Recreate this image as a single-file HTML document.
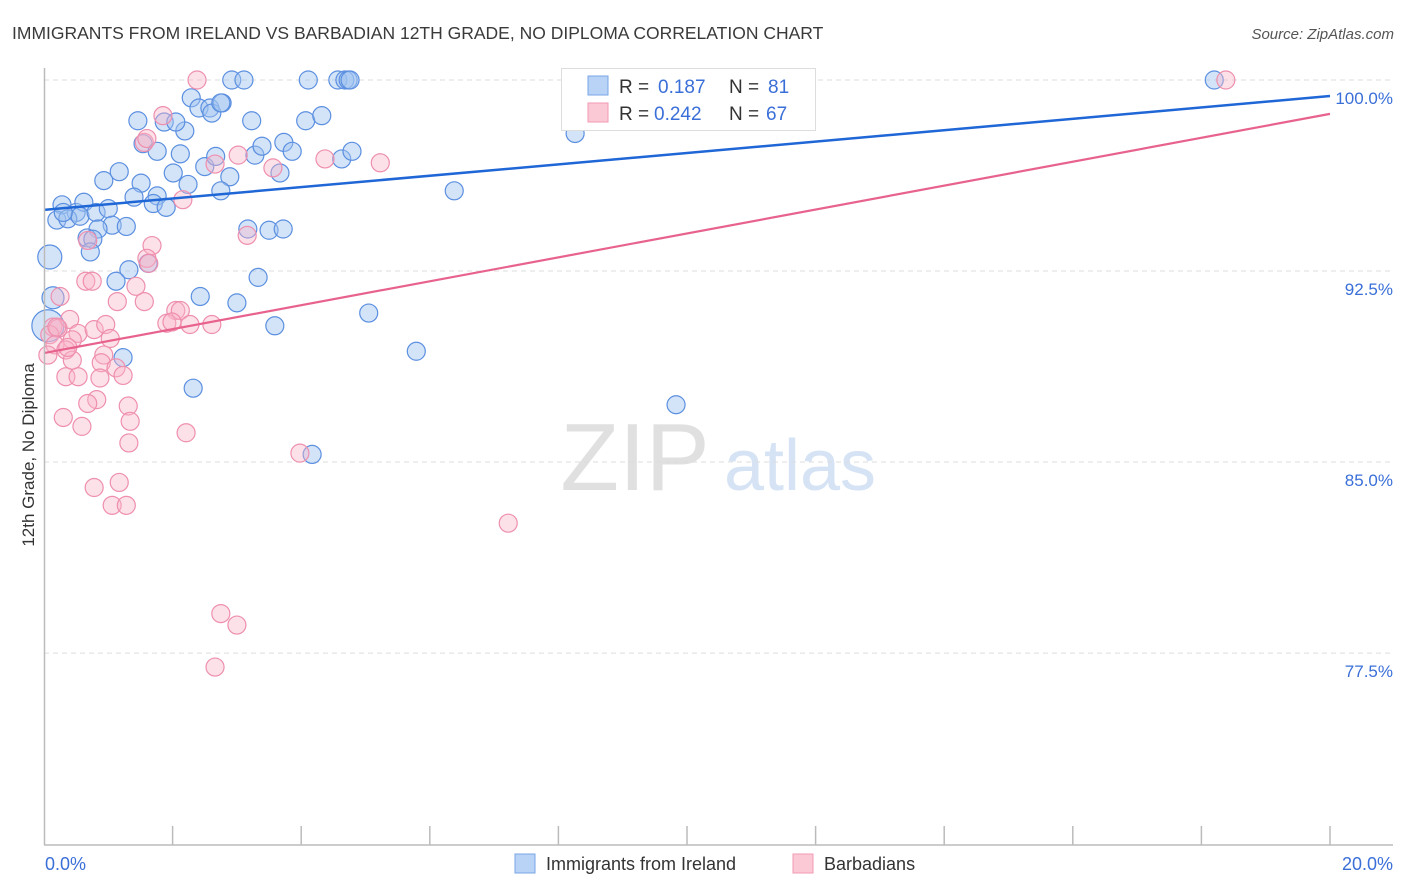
<!DOCTYPE html>
<html><head><meta charset="utf-8"><style>
body{margin:0;background:#fff;font-family:"Liberation Sans",sans-serif;}
#wrap{position:relative;width:1406px;height:892px;overflow:hidden;}
svg text{font-family:"Liberation Sans",sans-serif;}
</style></head><body>
<div id="wrap">
<svg id="chart" width="1406" height="892">
<text x="12" y="39" font-size="17.5" fill="#3a3a3a">IMMIGRANTS FROM IRELAND VS BARBADIAN 12TH GRADE, NO DIPLOMA CORRELATION CHART</text>
<text x="1394" y="39" font-size="15" fill="#555" font-style="italic" text-anchor="end">Source: ZipAtlas.com</text>
<text transform="translate(34,455) rotate(-90)" font-size="17" fill="#333" text-anchor="middle">12th Grade, No Diploma</text>
<g>
<text x="635" y="490" font-size="96" fill="#e0e0e0" font-family="Liberation Serif" text-anchor="middle">ZIP</text>
<text x="800" y="490" font-size="72" fill="#d5e3f5" text-anchor="middle">atlas</text>
</g>
<g id="grid"></g><g id="pts"></g><g id="lines"></g><g id="axes"></g>
<g>
<rect x="561.5" y="68.5" width="254" height="62" fill="#fff" stroke="#ddd"/>
<rect x="588" y="76" width="20" height="19" fill="#b8d3f5" stroke="#7aa6e6"/>
<rect x="588" y="103" width="20" height="19" fill="#fbc8d6" stroke="#f09ab3"/>
<text x="619" y="93" font-size="19" fill="#333">R = </text><text x="658" y="93" font-size="19" fill="#3a6fd8">0.187</text>
<text x="729" y="93" font-size="19" fill="#333">N = </text><text x="768" y="93" font-size="19" fill="#3a6fd8">81</text>
<text x="619" y="120" font-size="19" fill="#333">R = </text><text x="654" y="120" font-size="19" fill="#3a6fd8">0.242</text>
<text x="729" y="120" font-size="19" fill="#333">N = </text><text x="766" y="120" font-size="19" fill="#3a6fd8">67</text>
</g>
<g>
<rect x="515" y="854" width="20" height="19" fill="#b8d3f5" stroke="#7aa6e6"/>
<text x="546" y="870" font-size="18" fill="#333">Immigrants from Ireland</text>
<rect x="793" y="854" width="20" height="19" fill="#fbc8d6" stroke="#f09ab3"/>
<text x="824" y="870" font-size="18" fill="#333">Barbadians</text>
</g>
</svg>
</div>
<script>
const yTicks=[100,92.5,85,77.5];
const yTickLabels=["100.0%","92.5%","85.0%","77.5%"];
const xTickLabels=["0.0%","20.0%"];
const blueX=[0.28,0.50,0.62,0.20,0.37,0.56,0.81,1.00,1.06,1.28,0.84,0.67,0.76,0.72,0.09,0.93,1.17,1.51,1.76,1.40,1.70,1.90,2.01,2.24,1.54,1.76,2.12,2.19,1.46,1.87,2.05,2.29,2.41,2.58,2.61,2.77,2.50,2.67,2.89,2.75,2.92,3.11,3.23,3.28,3.39,3.73,3.86,3.67,4.11,4.57,4.68,4.73,4.76,4.07,4.32,4.63,4.79,6.38,8.26,11.17,18.20,3.17,3.50,3.72,1.32,1.62,1.12,3.33,2.43,3.00,3.59,5.05,5.79,1.23,2.32,9.83,4.17,0.14,0.06,0.30,2.75];
const blueY=[95.1,94.8,95.2,94.5,94.55,94.65,94.8,94.95,94.3,94.25,94.15,93.8,93.75,93.25,93.05,96.05,96.4,95.95,95.45,95.4,95.15,95.0,96.35,95.9,97.5,97.2,97.1,98.0,98.4,98.35,98.35,99.3,98.9,98.9,98.7,99.1,96.6,97.0,96.2,95.65,100.0,100.0,98.4,97.05,97.4,97.55,97.2,96.35,100.0,100.0,100.0,100.0,100.0,98.4,98.6,96.9,97.2,95.65,97.9,99.4,100.0,94.15,94.1,94.15,92.55,92.8,92.1,92.25,91.5,91.25,90.35,90.85,89.35,89.1,87.9,87.25,85.3,91.45,90.35,94.8,99.1];
const blueR=[9,9,9,9,9,9,9,9,9,9,9,9,9,9,12,9,9,9,9,9,9,9,9,9,9,9,9,9,9,9,9,9,9,9,9,9,9,9,9,9,9,9,9,9,9,9,9,9,9,9,9,9,9,9,9,9,9,9,9,9,9,9,9,9,9,9,9,9,9,9,9,9,9,9,9,9,9,11,16,9,9];
const pinkX=[2.38,18.38,1.85,1.56,1.60,3.02,2.66,3.56,4.37,5.23,2.16,3.16,1.68,1.60,1.63,0.68,0.25,0.65,0.75,1.14,1.56,1.43,2.05,2.12,1.91,1.99,2.27,2.61,0.14,0.22,0.09,0.17,0.06,0.40,0.53,0.78,0.96,1.03,0.44,0.93,0.89,1.12,0.34,0.87,1.23,0.34,0.82,0.68,0.30,0.59,1.31,1.34,1.32,2.21,3.98,0.78,1.17,1.06,1.28,7.22,2.75,3.00,2.66,0.20,0.53,0.44,0.37];
const pinkY=[100.0,100.0,98.6,97.55,97.7,97.05,96.7,96.55,96.9,96.75,95.3,93.9,93.5,93.0,92.8,93.7,91.5,92.1,92.1,91.3,91.3,91.9,90.95,90.95,90.45,90.5,90.4,90.4,90.3,90.25,90.0,89.6,89.2,90.6,90.05,90.2,90.4,89.85,89.8,89.2,88.9,88.7,89.4,88.3,88.4,88.35,87.45,87.3,86.75,86.4,87.2,86.6,85.75,86.15,85.35,84.0,84.2,83.3,83.3,82.6,79.05,78.6,76.95,90.3,88.35,89.0,89.5];
const trendX=[0,20];
const blueTrend=[94.9,99.37];
const pinkTrend=[89.28,98.67];
const X0=44,X1=1330,Y100=80,PXPER=25.47;
const sx=v=>X0+(v/20)*(X1-X0);
const sy=v=>Y100+(100-v)*PXPER;
const NS="http://www.w3.org/2000/svg";
function mk(tag,attrs,parent){const e=document.createElementNS(NS,tag);for(const k in attrs)e.setAttribute(k,attrs[k]);parent.appendChild(e);return e;}
const grid=document.getElementById('grid'),axes=document.getElementById('axes'),pts=document.getElementById('pts'),lines=document.getElementById('lines');
yTicks.forEach((t,i)=>{
 const l=mk('line',{x1:X0,x2:1393,y1:sy(t),y2:sy(t),stroke:'#ddd','stroke-dasharray':'5,4'},grid);
 
 
 const tx=mk('text',{x:1393,y:sy(t)+24,'font-size':17,fill:'#3a6fd8','text-anchor':'end'},axes);
 tx.textContent=yTickLabels[i];
 
 
});
const ax=mk('line',{x1:44.5,x2:44.5,y1:68,y2:845,stroke:'#bbb','stroke-width':1.5},axes);


const bx=mk('line',{x1:44,x2:1393,y1:845,y2:845,stroke:'#bbb','stroke-width':1.5},axes);


for(let k=1;k<=10;k++){const tk=mk('line',{x1:sx(k*2),x2:sx(k*2),y1:826,y2:845,stroke:'#bbb','stroke-width':1.5},axes);
 
 }
const xl0=mk('text',{x:45,y:870,'font-size':18,fill:'#3a6fd8'},axes);xl0.textContent=xTickLabels[0];


const xl1=mk('text',{x:1393,y:870,'font-size':18,fill:'#3a6fd8','text-anchor':'end'},axes);xl1.textContent=xTickLabels[1];


blueX.forEach((x,i)=>{const c=mk('circle',{cx:sx(x),cy:sy(blueY[i]),r:blueR[i]||9,fill:'rgba(160,196,240,0.45)',stroke:'#5b8fe0','stroke-width':1.2},pts);
 
 });
pinkX.forEach((x,i)=>{const c=mk('circle',{cx:sx(x),cy:sy(pinkY[i]),r:9,fill:'rgba(249,180,200,0.4)',stroke:'#ee8fae','stroke-width':1.2},pts);
 
 });
const bl=mk('line',{x1:sx(trendX[0]),y1:sy(blueTrend[0]),x2:sx(trendX[1]),y2:sy(blueTrend[1]),stroke:'#1f66d6','stroke-width':2.5},lines);


const pl=mk('line',{x1:sx(trendX[0]),y1:sy(pinkTrend[0]),x2:sx(trendX[1]),y2:sy(pinkTrend[1]),stroke:'#e8628e','stroke-width':2.2},lines);


</script>
</body></html>
